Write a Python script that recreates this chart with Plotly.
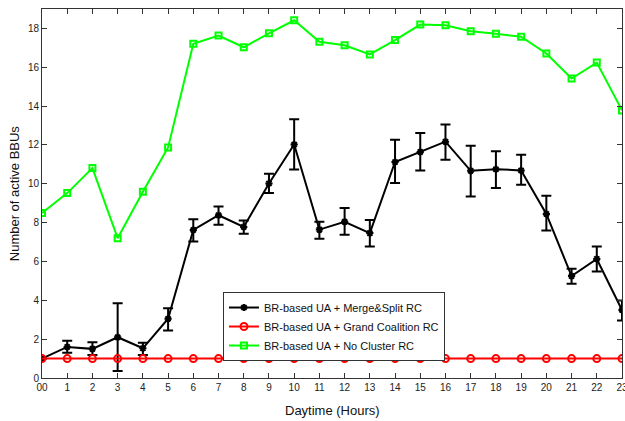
import plotly.graph_objects as go

hours = list(range(24))
hour_labels = ["00"] + [str(h) for h in range(1, 24)]

merge_split = [1.0, 1.6, 1.5, 2.1, 1.53, 3.05, 7.62, 8.38, 7.78, 10.02, 12.02, 7.64,
               8.04, 7.46, 11.12, 11.64, 12.17, 10.67, 10.75, 10.69, 8.45, 5.25, 6.13, 3.5]
ms_upper = [1.0, 1.92, 1.84, 3.85, 1.82, 3.59, 8.18, 8.83, 8.11, 10.52, 13.32, 8.05,
            8.75, 8.14, 12.27, 12.62, 13.05, 11.96, 11.67, 11.5, 9.39, 5.62, 6.77, 3.99]
ms_lower = [1.0, 1.3, 1.19, 0.36, 1.19, 2.44, 7.03, 7.89, 7.43, 9.52, 10.73, 7.17,
            7.37, 6.77, 10.04, 10.68, 11.24, 9.35, 9.78, 9.95, 7.6, 4.85, 5.48, 2.96]
grand_coalition = [1.0] * 24
no_cluster = [8.5, 9.52, 10.81, 7.2, 9.59, 11.87, 17.21, 17.63, 17.03, 17.75, 18.42, 17.31,
              17.13, 16.66, 17.4, 18.2, 18.16, 17.86, 17.72, 17.57, 16.71, 15.42, 16.24, 13.78]

font = "Liberation Sans, Arial, sans-serif"

fig = go.Figure()

fig.add_trace(go.Scatter(
    x=hours, y=merge_split, mode="lines+markers",
    name="BR-based UA + Merge&Split RC",
    line=dict(color="black", width=2),
    marker=dict(symbol="asterisk-open", size=6, color="black", line=dict(width=2, color="black")),
    error_y=dict(type="data", symmetric=False,
                 array=[u - v for u, v in zip(ms_upper, merge_split)],
                 arrayminus=[v - l for v, l in zip(merge_split, ms_lower)],
                 color="black", thickness=2, width=5),
))

fig.add_trace(go.Scatter(
    x=hours, y=grand_coalition, mode="lines+markers",
    name="BR-based UA + Grand Coalition RC",
    line=dict(color="#ff0000", width=2),
    marker=dict(symbol="circle-open", size=7, color="#ff0000", line=dict(width=2, color="#ff0000")),
))

fig.add_trace(go.Scatter(
    x=hours, y=no_cluster, mode="lines+markers",
    name="BR-based UA + No Cluster RC",
    line=dict(color="#00ff00", width=2),
    marker=dict(symbol="square-open", size=6, color="#00ff00", line=dict(width=2, color="#00ff00")),
))

fig.update_layout(
    width=625, height=421,
    margin=dict(l=42, r=3, t=9, b=43),
    paper_bgcolor="white", plot_bgcolor="white",
    font=dict(family=font, size=11, color="#222"),
    showlegend=True,
    legend=dict(
        x=0.312, y=0.233, xanchor="left", yanchor="top",
        bgcolor="white", bordercolor="#333", borderwidth=1,
        font=dict(family=font, size=11, color="#111"),
        tracegroupgap=0, itemwidth=30,
    ),
    annotations=[
        dict(text="Daytime (Hours)", xref="paper", yref="paper", x=0.5, y=-0.087,
             xanchor="center", yanchor="middle", showarrow=False,
             font=dict(family=font, size=13, color="#111")),
        dict(text="Number of active BBUs", xref="paper", yref="paper", x=-0.047, y=0.5,
             xanchor="center", yanchor="middle", textangle=-90, showarrow=False,
             font=dict(family=font, size=13, color="#111")),
    ],
)

fig.update_xaxes(
    range=[0, 23], tickmode="array", tickvals=hours, ticktext=hour_labels,
    ticks="inside", ticklen=5, tickcolor="#333", showgrid=False, zeroline=False,
    showline=True, linecolor="#333", linewidth=1, mirror="ticks",
    ticklabeloverflow="allow", automargin=False,
    tickfont=dict(family=font, size=10, color="#222"),
)
fig.update_yaxes(
    range=[0, 19], tickmode="array", tickvals=list(range(0, 19, 2)),
    ticks="inside", ticklen=5, tickcolor="#333", showgrid=False, zeroline=False,
    showline=True, linecolor="#333", linewidth=1, mirror="ticks",
    automargin=False,
    tickfont=dict(family=font, size=10, color="#222"),
)

fig.write_html("out.html")
